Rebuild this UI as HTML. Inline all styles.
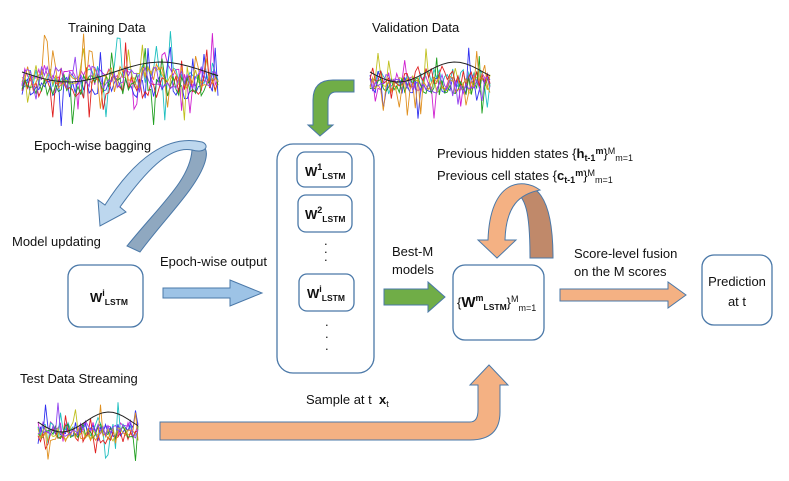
<!DOCTYPE html>
<html><head><meta charset="utf-8"><style>
body{margin:0;background:#fff}
svg{display:block}
text{font-family:"Liberation Sans",sans-serif;font-size:13px;fill:#111}
.b{font-weight:bold}
</style></head><body>
<svg id="s" width="789" height="481" viewBox="0 0 789 481" xmlns="http://www.w3.org/2000/svg">
<g id="plots"></g>
<text x="68" y="32">Training Data</text>
<text x="372" y="32">Validation Data</text>
<text x="34" y="150">Epoch-wise bagging</text>
<text x="12" y="246">Model updating</text>
<text x="160" y="266">Epoch-wise output</text>
<text x="392" y="256">Best-M</text>
<text x="392" y="274">models</text>
<text x="574" y="258">Score-level fusion</text>
<text x="574" y="276">on the M scores</text>
<text x="437" y="158">Previous hidden states {<tspan class="b">h</tspan><tspan class="b" font-size="9" dy="3">t-1</tspan><tspan class="b" font-size="9" dy="-7">m</tspan><tspan dy="4">}</tspan><tspan font-size="9" dy="-4">M</tspan><tspan font-size="9" dy="7">m=1</tspan></text>
<text x="437" y="180">Previous cell states {<tspan class="b">c</tspan><tspan class="b" font-size="9" dy="3">t-1</tspan><tspan class="b" font-size="9" dy="-7">m</tspan><tspan dy="4">}</tspan><tspan font-size="9" dy="-4">M</tspan><tspan font-size="9" dy="7">m=1</tspan></text>
<text x="20" y="383">Test Data Streaming</text>
<text x="306" y="404">Sample at t &#160;<tspan class="b">x</tspan><tspan font-size="9" dy="3">t</tspan></text>

<g fill="#fff" stroke="#4a78a8" stroke-width="1.3">
<rect x="68" y="265" width="75" height="62" rx="12"/>
<rect x="277" y="144" width="97" height="229" rx="16"/>
<rect x="297" y="152" width="55" height="35" rx="8"/>
<rect x="298" y="195" width="54" height="37" rx="8"/>
<rect x="299" y="274" width="55" height="37" rx="8"/>
<rect x="453" y="265" width="91" height="75" rx="12"/>
<rect x="702" y="255" width="70" height="70" rx="12"/>
</g>
<text x="90" y="302" class="b" font-size="15">W<tspan font-size="9" dy="-6">i</tspan><tspan font-size="8.5" dy="9">LSTM</tspan></text>
<text x="305" y="176" class="b" font-size="15">W<tspan font-size="9" dy="-6">1</tspan><tspan font-size="8.5" dy="9">LSTM</tspan></text>
<text x="305" y="219" class="b" font-size="15">W<tspan font-size="9" dy="-6">2</tspan><tspan font-size="8.5" dy="9">LSTM</tspan></text>
<text x="307" y="298" class="b" font-size="15">W<tspan font-size="9" dy="-6">i</tspan><tspan font-size="8.5" dy="9">LSTM</tspan></text>
<text x="457" y="307" font-size="12">{<tspan class="b" font-size="15">W</tspan><tspan class="b" font-size="9" dy="-6">m</tspan><tspan class="b" font-size="8.5" dy="9">LSTM</tspan><tspan dy="-3">}</tspan><tspan font-size="9" dy="-5">M</tspan><tspan font-size="9" dy="9">m=1</tspan></text>
<text x="737" y="286" font-size="13" text-anchor="middle">Prediction</text>
<text x="737" y="306" font-size="13" text-anchor="middle">at t</text>
<g fill="#222" font-size="12">
<text x="324" y="245">.</text><text x="324" y="253">.</text><text x="324" y="261">.</text>
<text x="325" y="326">.</text><text x="325" y="338">.</text><text x="325" y="350">.</text>
</g>

<path d="M163 288 H230 V280 L262 293 L230 306 V298 H163 Z" fill="#9dc3e6" stroke="#4a78a8" stroke-width="1"/>
<path d="M384 289 H428 V282 L445 297 L428 312 V305 H384 Z" fill="#70ad47" stroke="#4a78a8" stroke-width="1"/>
<path d="M560 289 H668 V282 L686 295 L668 308 V301 H560 Z" fill="#f4b183" stroke="#4a78a8" stroke-width="1"/>
<path d="M354 80 V92 H336 Q328 92 328 102 V125 H333 L320 136 L308 125 H313 V100 Q313 80 333 80 Z" fill="#70ad47" stroke="#4a78a8" stroke-width="1"/>
<path d="M160 422 H470 Q478 422 478 410 V385 H470 L489 365 L508 385 H500 V412 Q500 440 470 440 H160 Z" fill="#f4b183" stroke="#4a78a8" stroke-width="1"/>
<path d="M530 258 C530 212 526 196 512 190 C535 178 553 195 553 258 Z" fill="#c0896a" stroke="#4a78a8" stroke-width="1"/>
<path d="M540 190 C522 177 490 180 488 240 H478 L497 258 L516 240 H505 C506 205 520 194 540 190 Z" fill="#f4b183" stroke="#4a78a8" stroke-width="1"/>
<path d="M127 246 C160 205 190 180 192 150 C200 142 210 145 205 162 C197 188 165 218 140 252 Z" fill="#8fa8c0" stroke="#4a78a8" stroke-width="1"/>
<path d="M192 150 C172 146 150 165 120 207 L126 212 L100 226 L98 200 L105 205 C135 158 168 134 202 142 C210 145 206 154 192 150 Z" fill="#bdd7ee" stroke="#4a78a8" stroke-width="1"/>
</svg>
<script>
(function(){
var seed=7;function r(){seed=(seed*16807)%2147483647;return seed/2147483647;}
var cols=["#d020d0","#20c0c0","#3030f0","#c0c020","#e02020","#20a020","#e09020","#9040f0"];
var g=document.getElementById("plots");
function line(p,c,w){var l=document.createElementNS("http://www.w3.org/2000/svg","polyline");l.setAttribute("points",p.join(" "));l.setAttribute("fill","none");l.setAttribute("stroke",c);l.setAttribute("stroke-width",w||"0.9");g.appendChild(l);}
function plot(x0,x1,yc,amp,n){
 for(var c=0;c<cols.length;c++){var p=[];var base=(r()-0.5)*amp*0.3;for(var i=0;i<=n;i++){var x=x0+(x1-x0)*i/n;var d=(r()-0.5)*amp*0.5;if(r()<0.12)d*=4;var y=yc+base+d;p.push(x.toFixed(1)+","+y.toFixed(1));}line(p,cols[c]);}
 var p=[];for(var i=0;i<=20;i++){var x=x0+(x1-x0)*i/20;p.push(x+","+(yc-10+Math.sin(i/3)*10));}line(p,"#222","1");
}
plot(22,218,82,45,70);
plot(370,490,82,38,45);
plot(38,138,432,30,40);
})();
</script>
</body></html>
